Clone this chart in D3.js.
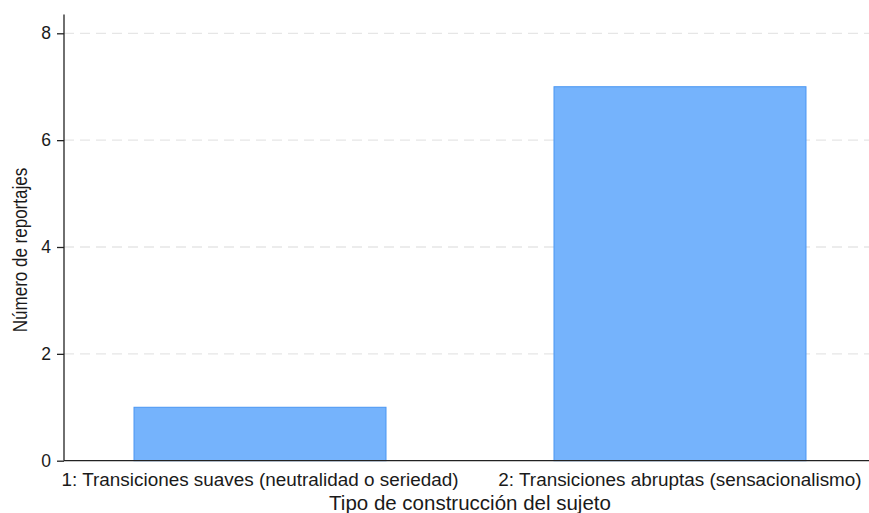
<!DOCTYPE html>
<html>
<head>
<meta charset="utf-8">
<script src="https://cdn.jsdelivr.net/npm/d3@7"></script>
<style>
  body { margin: 0; background: #fff; }
  text { font-family: "Liberation Sans", Arial, sans-serif; fill: #1a1a1a; }
</style>
</head>
<body>
<svg id="chart" width="869" height="513"></svg>
<script>
// categories and counts
const categories = ["1: Transiciones suaves (neutralidad o seriedad)", "2: Transiciones abruptas (sensacionalismo)"];
const counts = [1, 7];
const yTicks = [0, 2, 4, 6, 8];

const w = 869, h = 513;
const plotLeft = 64, plotBottom = 460.7, plotTop = 33.3;

const svg = d3.select("#chart");

// scales
const xScale = d3.scaleBand()
  .domain(categories)
  .range([plotLeft, 876])
  .paddingInner(0.4)
  .paddingOuter(0.1667);
const yScale = d3.scaleLinear()
  .domain([0, 8])
  .range([plotBottom, plotTop]);

// dashed gridlines
svg.append("g")
  .selectAll("line")
  .data(yTicks.filter(d => d > 0))
  .enter()
  .append("line")
  .attr("x1", plotLeft)
  .attr("x2", w)
  .attr("y1", d => yScale(d))
  .attr("y2", d => yScale(d))
  .attr("stroke", "#e6e6e6")
  .attr("stroke-width", 1.3)
  .attr("stroke-dasharray", "10,6");

// bars
svg.append("g")
  .selectAll("rect")
  .data(categories)
  .enter()
  .append("rect")
  .attr("x", d => xScale(d))
  .attr("y", (d, i) => yScale(counts[i]))
  .attr("width", xScale.bandwidth())
  .attr("height", (d, i) => plotBottom - yScale(counts[i]))
  .attr("fill", "#75b3fc")
  .attr("stroke", "#4a96f2")
  .attr("stroke-width", 1);

// y axis
const yAxis = d3.axisLeft(yScale).tickValues(yTicks).tickSize(7).tickPadding(6);
const yG = svg.append("g")
  .attr("transform", "translate(" + plotLeft + ",0)")
  .call(yAxis);
yG.select(".domain").remove();
yG.append("line")
  .attr("x1", 0).attr("x2", 0)
  .attr("y1", 14.5).attr("y2", plotBottom)
  .attr("stroke", "#222").attr("stroke-width", 1.3);
yG.selectAll(".tick line").attr("stroke", "#222").attr("stroke-width", 1.3);
yG.selectAll(".tick text").style("font-size", "17.5px").attr("fill", "#1a1a1a");

// x axis
const xAxis = d3.axisBottom(xScale).tickSize(0).tickPadding(12);
const xG = svg.append("g")
  .attr("transform", "translate(0," + plotBottom + ")")
  .call(xAxis);
xG.select(".domain").remove();
xG.append("line")
  .attr("x1", plotLeft).attr("x2", w)
  .attr("y1", 0).attr("y2", 0)
  .attr("stroke", "#222").attr("stroke-width", 1.3);
xG.selectAll(".tick text").style("font-size", "18.9px").attr("fill", "#1a1a1a");

// axis titles
svg.append("text")
  .attr("text-anchor", "middle")
  .attr("x", 470)
  .attr("y", 510)
  .style("font-size", "20.5px")
  .text("Tipo de construcción del sujeto");
svg.append("text")
  .attr("text-anchor", "middle")
  .attr("transform", "translate(26.5," + 250 + ") rotate(-90) scale(0.85,1)")
  .style("font-size", "20px")
  .text("Número de reportajes");
</script>
</body>
</html>
